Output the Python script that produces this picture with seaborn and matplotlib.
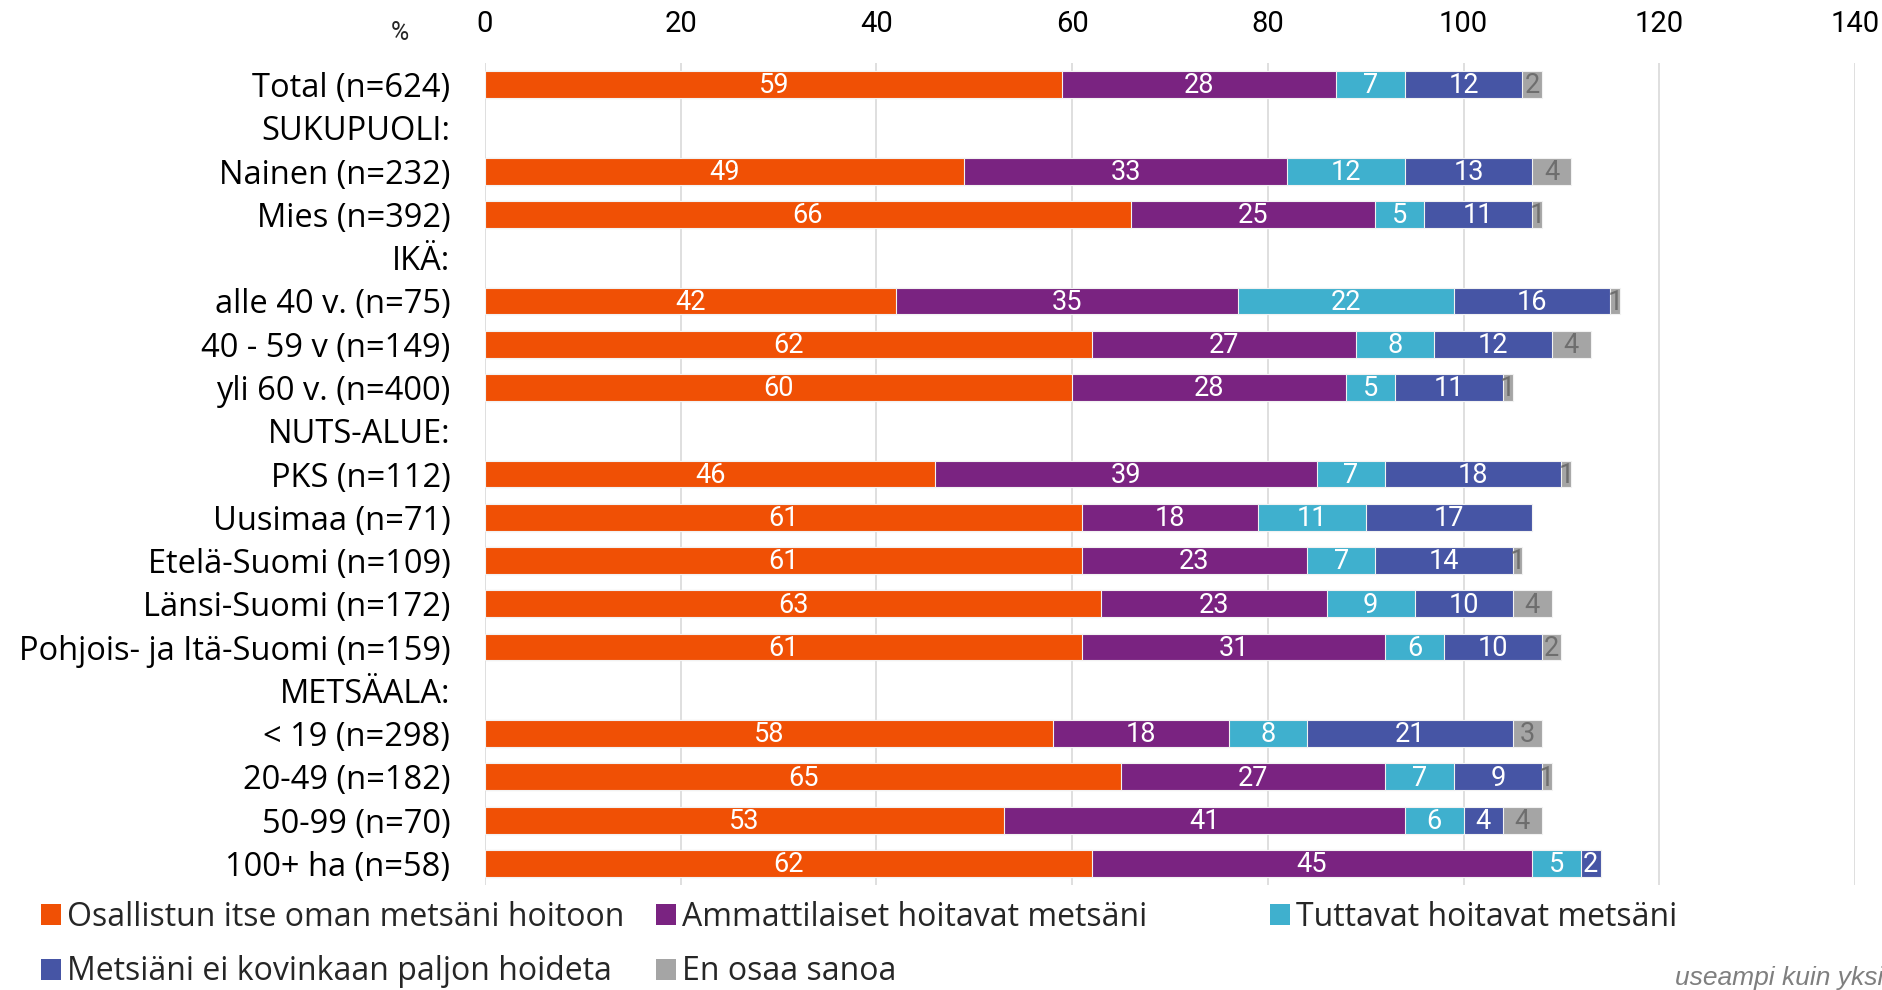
import matplotlib
matplotlib.use("Agg")
import matplotlib.pyplot as plt
import seaborn as sns
import pandas as pd
import numpy as np
from matplotlib.patches import Patch

categories = [
    "Total (n=624)", "SUKUPUOLI:", "Nainen (n=232)", "Mies (n=392)", "IKÄ:",
    "alle 40 v. (n=75)", "40 - 59 v (n=149)", "yli 60 v. (n=400)", "NUTS-ALUE:",
    "PKS (n=112)", "Uusimaa (n=71)", "Etelä-Suomi (n=109)", "Länsi-Suomi (n=172)",
    "Pohjois- ja Itä-Suomi (n=159)", "METSÄALA:", "< 19 (n=298)", "20-49 (n=182)",
    "50-99 (n=70)", "100+ ha (n=58)",
]
headers = ["SUKUPUOLI:", "IKÄ:", "NUTS-ALUE:", "METSÄALA:"]
data_rows = [c for c in categories if c not in headers]

series_names = [
    "Osallistun itse oman metsäni hoitoon",
    "Ammattilaiset hoitavat metsäni",
    "Tuttavat hoitavat metsäni",
    "Metsiäni ei kovinkaan paljon hoideta",
    "En osaa sanoa",
]
itse = [59, 49, 66, 42, 62, 60, 46, 61, 61, 63, 61, 58, 65, 53, 62]
ammattilaiset = [28, 33, 25, 35, 27, 28, 39, 18, 23, 23, 31, 18, 27, 41, 45]
tuttavat = [7, 12, 5, 22, 8, 5, 7, 11, 7, 9, 6, 8, 7, 6, 5]
ei_hoideta = [12, 13, 11, 16, 12, 11, 18, 17, 14, 10, 10, 21, 9, 4, 2]
en_osaa = [2, 4, 1, 1, 4, 1, 1, 0, 1, 4, 2, 3, 1, 4, 0]

colors = ["#F05005", "#7A2381", "#3FB0CE", "#4655A5", "#A5A5A5"]
label_colors = ["white", "white", "white", "white", "#6E6E6E"]
xticks = [0, 20, 40, 60, 80, 100, 120, 140]

sns.set_theme(style="white")
plt.rcParams["font.family"] = ["Open Sans", "DejaVu Sans"]

W, H = 1883, 990
fig = plt.figure(figsize=(W / 100, H / 100), dpi=100)
ax = fig.add_axes([485 / W, 1 - 885 / H, 1370 / W, 822 / H])

series = [itse, ammattilaiset, tuttavat, ei_hoideta, en_osaa]
df = pd.DataFrame({name: vals for name, vals in zip(series_names, series)}, index=data_rows)
cum = df.cumsum(axis=1)

# draw from the longest cumulative to the shortest so each segment shows
for k in range(len(series_names) - 1, -1, -1):
    d = pd.DataFrame({"cat": data_rows, "val": cum.iloc[:, k].values})
    sns.barplot(data=d, x="val", y="cat", order=categories, orient="h",
                color=colors[k], saturation=1, width=0.62,
                edgecolor="#F2F2F2", linewidth=0.8, ax=ax, zorder=3)

num_font = ["Roboto", "DejaVu Sans"]
for k in range(len(series_names)):
    starts = cum.iloc[:, k].values - df.iloc[:, k].values
    for row, (s, v) in enumerate(zip(starts, df.iloc[:, k].values)):
        if v <= 0:
            continue
        yi = categories.index(data_rows[row])
        ax.text(s + v / 2, yi + 0.03, str(v), ha="center", va="center",
                color=label_colors[k], fontsize=19.5, family=num_font, zorder=5)

ax.set_xlim(0, 140)
ax.set_ylim(len(categories) - 0.5, -0.5)
ax.set_xticks(xticks)
ax.set_xticklabels([str(t) for t in xticks], family=num_font, fontsize=21)
ax.xaxis.tick_top()
ax.tick_params(axis="x", length=0, pad=18, colors="black")
ax.tick_params(axis="y", length=0, pad=25, labelsize=23.5, colors="black")
ax.set_xlabel("")
ax.set_ylabel("")
ax.grid(axis="x", color="#D9D9D9", linewidth=1.2, zorder=0)
ax.set_axisbelow(True)
for sp in ax.spines.values():
    sp.set_visible(False)

fig.text(400 / W, 1 - 33 / H, "%", ha="center", va="center", fontsize=18,
         family=num_font)

# legend: Excel-style equal-width columns, filled row by row
leg_x = [41, 656, 1270, 41, 656]
leg_y = [917, 917, 917, 972, 972]
for name, c, lx, ly in zip(series_names, colors, leg_x, leg_y):
    lg = fig.legend([Patch(facecolor=c, edgecolor="none")], [name],
                    loc="center left", bbox_to_anchor=(lx / W, 1 - ly / H),
                    frameon=False, fontsize=23, handlelength=0.62, handleheight=0.62,
                    handletextpad=0.2, borderpad=0.0, borderaxespad=0.0)

fig.text(1675 / W, 1 - 978 / H, "useampi kuin yksi vastaus",
         ha="left", va="center", fontsize=19, style="italic", color="#7F7F7F",
         family=["Liberation Sans", "DejaVu Sans"])

fig.savefig("out.png", dpi=100)
